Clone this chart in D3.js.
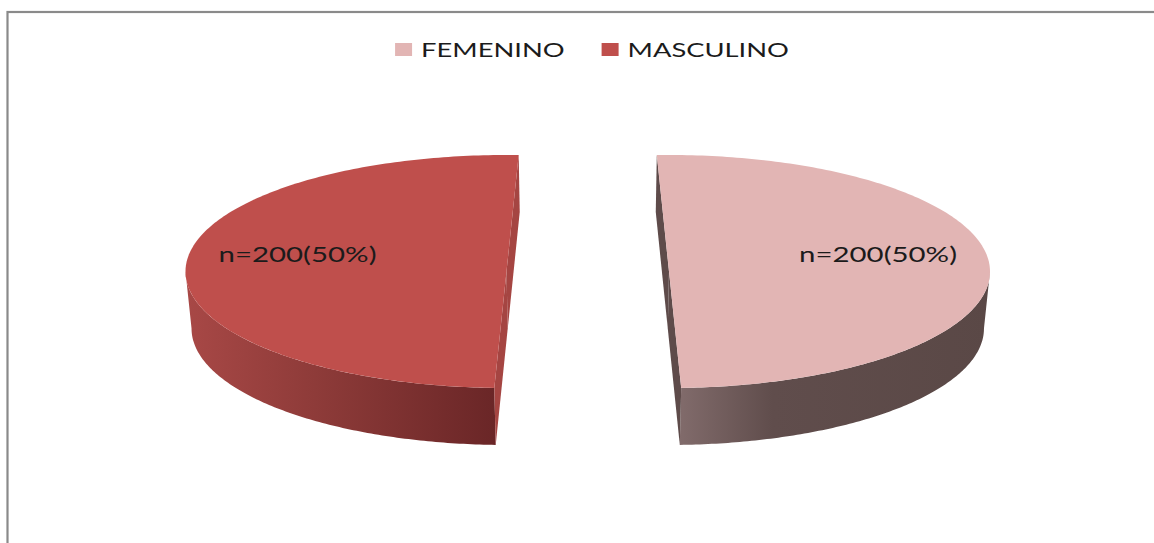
<!DOCTYPE html>
<html>
<head>
<meta charset="utf-8">
<script src="https://cdn.jsdelivr.net/npm/d3@7"></script>
<style>
  html, body { margin: 0; padding: 0; background: #ffffff; }
  svg { display: block; }
  text { font-family: Lato, "Open Sans", "Liberation Sans", sans-serif; fill: #1b1b1b; }
</style>
</head>
<body>
<svg id="chart" width="1154" height="543"></svg>
<script>
// ---- data ----
const categories = ["FEMENINO", "MASCULINO"];
const values = [200, 200];

// ---- styles ----
const topColors  = ["#E2B5B4", "#BF4F4C"];
const cutColors  = ["#5E4B4A", "#A54542"];
const sideStops  = [
  [["0", "#816B6B"], ["0.3", "#604D4C"], ["1", "#5A4846"]],
  [["0", "#A84846"], ["0.45", "#8C3A38"], ["1", "#6A2627"]]
];

const W = 1154, H = 543;
const svg = d3.select("#chart");
const defs = svg.append("defs");

// frame
svg.append("rect")
  .attr("x", 7.5).attr("y", 12)
  .attr("width", 1300).attr("height", 700)
  .attr("fill", "none").attr("stroke", "#8a8a8a").attr("stroke-width", 2.2);

// geometry of the 3D pie
const CX = 587.75, CY = 271.5;       // overall centre
const A = 321, B = 116.5;            // ellipse radii of top face
const EXPL = 81.25;                  // explosion
const DEPTH = 57;                    // thickness
const TILT = 0.038;                  // pseudo-perspective rotation
const SHRINK = 0.985;                // bottom face shrink toward centre
const SX = 1.4;                      // horizontal text stretch

const total = d3.sum(values);
const arcs = d3.pie().sort(null).value(d => d)(values);
const line = d3.line();

arcs.forEach((a, i) => {
  const s = a.startAngle, e = a.endAngle, mid = (s + e) / 2;
  const cx = CX + EXPL * Math.sin(mid);
  const cy = CY - EXPL * Math.cos(mid) * B / A;
  const phi = -TILT * Math.sin(mid);
  const pt = t => [cx + A * Math.sin(t + phi), cy - B * Math.cos(t + phi)];
  const bp = p => [CX + (p[0] - CX) * SHRINK, p[1] + DEPTH];
  const sample = (t0, t1, n) => d3.range(n + 1).map(k => pt(t0 + (t1 - t0) * k / n));

  const g = svg.append("g");

  // outer side (front-facing part only)
  const f0 = Math.max(s, Math.PI / 2 - phi), f1 = Math.min(e, 3 * Math.PI / 2 - phi);
  if (f1 > f0) {
    const gid = "side" + i;
    const grad = defs.append("linearGradient").attr("id", gid)
      .attr("x1", "0").attr("x2", "1").attr("y1", "0").attr("y2", "0");
    sideStops[i].forEach(([o, c]) => grad.append("stop").attr("offset", o).attr("stop-color", c));
    const topEdge = sample(f0, f1, 120);
    const botEdge = topEdge.map(bp).reverse();
    g.append("path")
      .attr("d", line(topEdge.concat(botEdge)) + "Z")
      .attr("fill", `url(#${gid})`);
  }

  // radial cut faces
  const c = [cx, cy];
  [s, e].forEach(t => {
    const p = pt(t);
    g.append("path")
      .attr("d", line([c, p, bp(p), bp(c)]) + "Z")
      .attr("fill", cutColors[i]);
  });

  // top face
  const topPts = sample(s, e, 200).concat([c]);
  g.append("path")
    .attr("d", line(topPts) + "Z")
    .attr("fill", topColors[i]);

  // data label
  const lt = mid + (mid < Math.PI ? -0.2 : 0.2);
  const lr = 0.67;
  const lx = cx + lr * A * Math.sin(lt + phi);
  const ly = cy - lr * B * Math.cos(lt + phi);
  const pct = Math.round(values[i] / total * 100);
  const lab = g.append("text")
    .attr("x", lx).attr("y", ly + 9)
    .attr("text-anchor", "middle")
    .attr("font-size", 21)
    .text(`n=${values[i]}(${pct}%)`);
  const len = lab.node().getComputedTextLength();
  lab.attr("textLength", len * SX).attr("lengthAdjust", "spacingAndGlyphs");
});

// ---- legend ----
const legend = svg.append("g");
const SW = 17, SH = 13, GAP = 9, ITEM_GAP = 37, LEG_CX = 592, LEG_BASE = 56.5;
let x = 0;
const items = categories.map((cat, i) => {
  const it = legend.append("g");
  it.append("rect").attr("x", 0).attr("y", LEG_BASE - 13.5)
    .attr("width", SW).attr("height", SH).attr("fill", topColors[i]);
  const t = it.append("text").attr("x", SW + GAP).attr("y", LEG_BASE)
    .attr("font-size", 19.5).text(cat);
  const len = t.node().getComputedTextLength() * SX;
  t.attr("textLength", len).attr("lengthAdjust", "spacingAndGlyphs");
  it.attr("transform", `translate(${x},0)`);
  const w = SW + GAP + len;
  x += w + ITEM_GAP;
  return w;
});
const legW = x - ITEM_GAP;
legend.attr("transform", `translate(${LEG_CX - legW / 2},0)`);
</script>
</body>
</html>
